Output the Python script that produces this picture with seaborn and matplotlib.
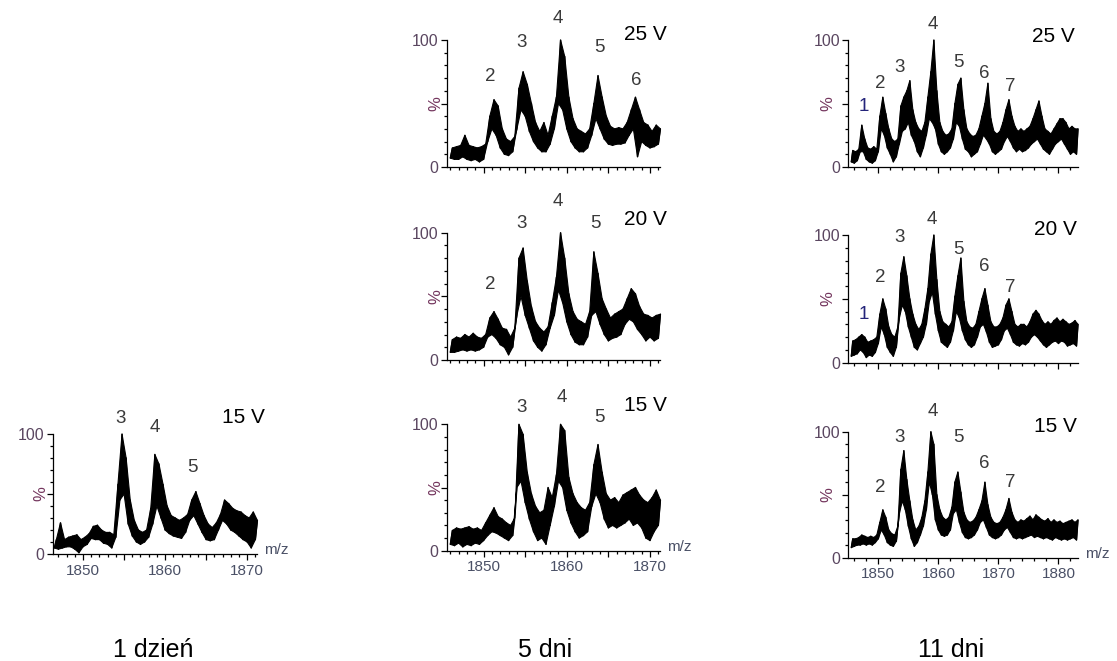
import numpy as np
import pandas as pd
import matplotlib
matplotlib.use("Agg")
import matplotlib.pyplot as plt
import seaborn as sns
from matplotlib.ticker import MultipleLocator, FixedLocator, FuncFormatter

sns.set_theme(style="ticks")
plt.rcParams["font.family"] = ["Liberation Sans", "DejaVu Sans"]

# ---------------------------------------------------------------------------
# Spectra: lower / upper envelope of the relative intensity (%), sampled every
# 0.5 m/z starting at the given m/z (upper value sits 0.25 m/z after the lower)
# ---------------------------------------------------------------------------
day1_15V_start = 1846.5
day1_15V_lo = [5, 4, 5, 6, 6, 4, 1, 6, 8, 13, 12, 12, 9, 8, 5, 14, 45, 50, 25, 15,
               10, 8, 10, 14, 25, 40, 30, 20, 17, 15, 14, 13, 18, 28, 32, 25, 18, 12, 11, 12,
               20, 28, 25, 20, 18, 15, 12, 10, 5, 12]
day1_15V_hi = [12, 26, 12, 14, 15, 16, 12, 14, 17, 23, 24, 20, 18, 18, 16, 58, 100, 80, 45, 28,
               20, 18, 20, 38, 83, 75, 58, 40, 32, 30, 28, 30, 33, 45, 52, 42, 32, 25, 22, 26,
               33, 45, 42, 38, 36, 35, 32, 30, 35, 28]

day5_25V_start = 1846.0
day5_25V_lo = [7, 6, 6, 8, 6, 5, 6, 4, 6, 20, 30, 25, 15, 10, 9, 12, 30, 45, 40, 28,
               20, 15, 12, 12, 18, 30, 50, 45, 30, 20, 15, 12, 12, 15, 25, 38, 30, 22, 18, 17,
               18, 18, 19, 25, 30, 8, 20, 17, 15, 16, 18]
day5_25V_hi = [15, 16, 17, 25, 17, 16, 15, 16, 18, 40, 53, 48, 30, 22, 20, 24, 62, 75, 65, 50,
               35, 28, 35, 25, 40, 55, 100, 87, 55, 38, 30, 28, 26, 30, 50, 72, 55, 40, 32, 30,
               31, 30, 35, 45, 55, 45, 35, 33, 28, 33, 30]

day5_20V_start = 1846.0
day5_20V_lo = [6, 6, 7, 8, 7, 8, 7, 8, 10, 18, 20, 17, 12, 10, 4, 10, 35, 50, 35, 25,
               15, 10, 7, 12, 25, 35, 55, 45, 30, 20, 14, 12, 12, 18, 35, 38, 28, 20, 15, 17,
               18, 20, 28, 32, 30, 24, 20, 15, 18, 15, 17]
day5_20V_hi = [16, 18, 17, 20, 18, 21, 18, 17, 20, 33, 38, 32, 25, 24, 18, 25, 80, 88, 62, 42,
               30, 25, 22, 26, 45, 65, 100, 80, 52, 38, 32, 30, 28, 38, 85, 68, 48, 40, 33, 36,
               38, 40, 48, 56, 52, 42, 36, 35, 33, 35, 36]

day5_15V_start = 1846.0
day5_15V_lo = [5, 4, 6, 3, 5, 4, 6, 5, 8, 12, 15, 14, 12, 10, 8, 12, 50, 55, 38, 25,
               15, 8, 10, 5, 20, 35, 55, 50, 32, 22, 15, 10, 12, 15, 35, 45, 38, 25, 18, 20,
               18, 20, 22, 25, 20, 22, 18, 10, 8, 15, 20]
day5_15V_hi = [16, 18, 17, 18, 19, 17, 18, 16, 22, 28, 34, 27, 25, 22, 20, 26, 100, 92, 62, 45,
               35, 30, 32, 50, 42, 60, 100, 95, 58, 45, 38, 34, 32, 38, 68, 84, 62, 45, 40, 42,
               38, 44, 46, 48, 50, 44, 40, 38, 42, 48, 40]

day11_25V_start = 1845.5
day11_25V_lo = [4, 3, 5, 12, 12, 6, 4, 3, 5, 12, 30, 25, 15, 10, 4, 8, 18, 28, 30, 35,
                25, 20, 12, 8, 15, 25, 38, 35, 30, 18, 12, 10, 12, 15, 22, 35, 32, 22, 14, 12,
                8, 10, 12, 18, 25, 22, 18, 12, 10, 12, 14, 20, 24, 20, 15, 12, 14, 12, 13, 15,
                18, 20, 22, 18, 14, 12, 10, 14, 18, 20, 22, 18, 14, 10, 12, 10]
day11_25V_hi = [13, 12, 14, 33, 22, 15, 14, 16, 14, 40, 55, 42, 30, 22, 20, 22, 48, 55, 60, 68,
                45, 35, 30, 28, 35, 55, 75, 100, 60, 35, 28, 25, 26, 30, 50, 65, 70, 45, 30, 26,
                24, 25, 30, 40, 50, 66, 38, 28, 26, 28, 35, 45, 53, 40, 32, 28, 30, 28, 30, 32,
                38, 45, 52, 40, 30, 28, 26, 30, 34, 38, 38, 35, 30, 32, 30, 30]

day11_20V_start = 1845.5
day11_20V_lo = [5, 6, 7, 10, 8, 4, 6, 5, 8, 15, 28, 22, 12, 8, 5, 12, 35, 45, 40, 28,
                20, 12, 10, 15, 20, 30, 48, 55, 38, 25, 16, 14, 12, 16, 25, 40, 35, 25, 18, 14,
                12, 14, 20, 28, 30, 24, 16, 12, 13, 14, 18, 25, 27, 22, 16, 14, 13, 15, 14, 16,
                20, 22, 20, 17, 14, 12, 14, 16, 17, 15, 17, 16, 13, 14, 15, 13]
day11_20V_hi = [17, 18, 20, 22, 20, 16, 17, 18, 20, 38, 50, 42, 28, 22, 20, 28, 70, 83, 68, 50,
                38, 30, 26, 30, 42, 58, 85, 100, 65, 40, 32, 30, 28, 32, 52, 68, 82, 48, 32, 28,
                27, 30, 40, 50, 58, 45, 32, 28, 28, 30, 35, 45, 50, 40, 30, 28, 30, 30, 28, 32,
                38, 41, 38, 33, 30, 32, 30, 33, 35, 32, 34, 32, 30, 31, 33, 30]

day11_15V_start = 1845.5
day11_15V_lo = [8, 9, 10, 10, 11, 10, 11, 10, 12, 15, 22, 18, 12, 10, 9, 13, 35, 45, 38, 25,
                15, 9, 12, 18, 25, 38, 60, 50, 30, 22, 18, 17, 18, 22, 35, 38, 28, 20, 16, 15,
                16, 18, 22, 28, 30, 24, 18, 16, 15, 16, 18, 22, 24, 20, 16, 15, 16, 15, 16, 17,
                18, 16, 17, 16, 15, 16, 15, 14, 16, 15, 14, 15, 14, 15, 16, 14]
day11_15V_hi = [15, 15, 16, 18, 17, 16, 17, 16, 18, 28, 38, 32, 22, 19, 18, 25, 70, 85, 62, 45,
                30, 22, 25, 32, 45, 68, 100, 90, 50, 38, 32, 30, 32, 40, 60, 68, 52, 36, 30, 28,
                29, 32, 38, 45, 60, 42, 32, 28, 27, 28, 32, 38, 47, 36, 30, 28, 30, 29, 31, 33,
                30, 34, 32, 30, 29, 31, 28, 30, 28, 29, 27, 28, 29, 30, 28, 30]

# Peak numbering (oligomer index) and their label anchors (m/z, %)
day1_15V_peaks = ["3", "4", "5"]
day1_15V_peak_mz = [1854.6, 1858.7, 1863.3]
day1_15V_peak_pct = [113, 105, 72.5]

day5_25V_peaks = ["2", "3", "4", "5", "6"]
day5_25V_peak_mz = [1850.8, 1854.6, 1858.9, 1863.9, 1868.4]
day5_25V_peak_pct = [71.6, 97.9, 117, 94, 68]

day5_20V_peaks = ["2", "3", "4", "5"]
day5_20V_peak_mz = [1850.8, 1854.6, 1858.9, 1863.5]
day5_20V_peak_pct = [59, 107.6, 124.6, 107.6]

day5_15V_peaks = ["3", "4", "5"]
day5_15V_peak_mz = [1854.5, 1859.4, 1863.9]
day5_15V_peak_pct = [113, 121, 105]

day11_25V_peaks = ["1", "2", "3", "4", "5", "6", "7"]
day11_25V_peak_mz = [1847.6, 1850.4, 1853.6, 1859.1, 1863.3, 1867.7, 1872.0]
day11_25V_peak_pct = [47.5, 66, 78, 112, 82, 74, 63]

day11_20V_peaks = ["1", "2", "3", "4", "5", "6", "7"]
day11_20V_peak_mz = [1847.6, 1850.4, 1853.6, 1858.9, 1863.3, 1867.7, 1872.0]
day11_20V_peak_pct = [37.5, 66.5, 98, 112, 89, 75, 59]

day11_15V_peaks = ["2", "3", "4", "5", "6", "7"]
day11_15V_peak_mz = [1850.4, 1853.6, 1859.1, 1863.3, 1867.7, 1872.0]
day11_15V_peak_pct = [56, 95, 116, 95, 75, 59.5]

voltages = ["15 V", "25 V", "20 V", "15 V", "25 V", "20 V", "15 V"]
voltage_mz = [1869.6, 1869.4, 1869.4, 1869.5, 1879.2, 1879.5, 1879.5]
voltage_pct = [114, 104, 110, 115, 103, 104.5, 104.5]

column_titles = ["1 dzień", "5 dni", "11 dni"]

# ---------------------------------------------------------------------------
W, H = 1117, 661
fig = plt.figure(figsize=(W / 100, H / 100), dpi=100)
fig.patch.set_facecolor("white")

YTICK_COLOR = "#5a4660"
XTICK_COLOR = "#4a5066"
PCT_COLOR = "#74365e"
PEAK_COLOR = "#3a3a3a"
FIRST_PEAK_COLOR = "#24247a"

# (left px, right px, px of 0 %, px of 100 %, xlim, major, minor, bottom row, % offset)
layout = [
    (52.7, 257.0, 554.0, 434.0, (1846.3, 1871.2), 5, 1, True, -0.06),
    (447.0, 660.0, 167.0, 40.0, (1845.6, 1871.2), 5, 1, False, -0.05),
    (447.0, 660.0, 360.0, 232.7, (1845.6, 1871.2), 5, 1, False, -0.05),
    (447.0, 660.0, 550.7, 424.3, (1845.6, 1871.2), 5, 1, True, -0.05),
    (848.3, 1078.3, 167.0, 40.0, (1845.0, 1883.3), 10, 2, False, -0.09),
    (848.3, 1078.3, 362.7, 235.0, (1845.0, 1883.3), 10, 2, False, -0.09),
    (848.3, 1078.3, 557.7, 431.7, (1845.0, 1883.3), 10, 2, True, -0.09),
]

spectra = [
    (day1_15V_start, day1_15V_lo, day1_15V_hi, day1_15V_peaks, day1_15V_peak_mz, day1_15V_peak_pct),
    (day5_25V_start, day5_25V_lo, day5_25V_hi, day5_25V_peaks, day5_25V_peak_mz, day5_25V_peak_pct),
    (day5_20V_start, day5_20V_lo, day5_20V_hi, day5_20V_peaks, day5_20V_peak_mz, day5_20V_peak_pct),
    (day5_15V_start, day5_15V_lo, day5_15V_hi, day5_15V_peaks, day5_15V_peak_mz, day5_15V_peak_pct),
    (day11_25V_start, day11_25V_lo, day11_25V_hi, day11_25V_peaks, day11_25V_peak_mz, day11_25V_peak_pct),
    (day11_20V_start, day11_20V_lo, day11_20V_hi, day11_20V_peaks, day11_20V_peak_mz, day11_20V_peak_pct),
    (day11_15V_start, day11_15V_lo, day11_15V_hi, day11_15V_peaks, day11_15V_peak_mz, day11_15V_peak_pct),
]


def mz_label(show):
    def fmt(v, pos):
        if show and abs(v - round(v / 10) * 10) < 1e-6:
            return f"{v:.0f}"
        return ""
    return FuncFormatter(fmt)


for idx, ((left, right, p0, p100, xlim, major, minor, bottom_row, pct_x),
          (start, lo, hi, peaks, pk_mz, pk_pct)) in enumerate(zip(layout, spectra)):
    ax = fig.add_axes([left / W, 1 - p0 / H, (right - left) / W, (p0 - p100) / H])
    ax.set_facecolor("none")

    lo = np.asarray(lo, dtype=float)
    hi = np.asarray(hi, dtype=float)
    mz_lo = start + 0.5 * np.arange(len(lo))
    mz_hi = mz_lo + 0.25

    # dense trace: filled envelope band plus the zig-zag between troughs and crests
    ax.fill(np.concatenate([mz_hi, mz_lo[::-1]]), np.concatenate([hi, lo[::-1]]),
            color="black", linewidth=0.8, clip_on=False)
    df = pd.DataFrame({
        "mz": np.concatenate([mz_lo, mz_hi]),
        "pct": np.concatenate([lo, hi]),
    }).sort_values("mz")
    sns.lineplot(data=df, x="mz", y="pct", ax=ax, color="black",
                 linewidth=1.0, estimator=None, sort=True)
    for ln in ax.lines:
        ln.set_clip_on(False)

    ax.set_xlim(*xlim)
    ax.set_ylim(0, 100)
    ax.set_xlabel("")
    ax.set_ylabel("")
    sns.despine(ax=ax)
    ax.spines["left"].set_bounds(0, 100)
    for s in ("left", "bottom"):
        ax.spines[s].set_linewidth(0.9)
        ax.spines[s].set_color("black")

    ax.yaxis.set_major_locator(FixedLocator([0, 50, 100]))
    ax.yaxis.set_minor_locator(MultipleLocator(10))
    ax.yaxis.set_major_formatter(FuncFormatter(lambda v, p: "" if v == 50 else f"{v:.0f}"))
    ax.xaxis.set_major_locator(MultipleLocator(major))
    ax.xaxis.set_minor_locator(MultipleLocator(minor))
    ax.xaxis.set_major_formatter(mz_label(bottom_row))

    ax.tick_params(which="major", length=4.5, width=0.9, color="black", direction="out")
    ax.tick_params(which="minor", length=2.5, width=0.9, color="black", direction="out")
    ax.tick_params(axis="y", labelsize=11.5, labelcolor=YTICK_COLOR, pad=1.5)
    ax.tick_params(axis="x", labelsize=11, labelcolor=XTICK_COLOR, pad=2.5)

    ax.text(pct_x, 0.5, "%", transform=ax.transAxes, rotation=90,
            ha="center", va="center", fontsize=12, color=PCT_COLOR)

    for lab, x, y in zip(peaks, pk_mz, pk_pct):
        ax.text(x, y, lab, ha="center", va="center", fontsize=13.5,
                color=FIRST_PEAK_COLOR if lab == "1" else PEAK_COLOR, clip_on=False)

    ax.text(voltage_mz[idx], voltage_pct[idx], voltages[idx], ha="center", va="center",
            fontsize=15, color="black", clip_on=False)

    if bottom_row:
        ax.annotate("m/z", xy=(1, 0), xycoords="axes fraction", xytext=(5, 3),
                    textcoords="offset points", ha="left", va="center",
                    fontsize=11, color=XTICK_COLOR)

for title, cx in zip(column_titles, [153, 545, 951]):
    fig.text(cx / W, 1 - 650 / H, title, ha="center", va="center", fontsize=18, color="black")

fig.savefig("out.png", dpi=100, facecolor="white")
